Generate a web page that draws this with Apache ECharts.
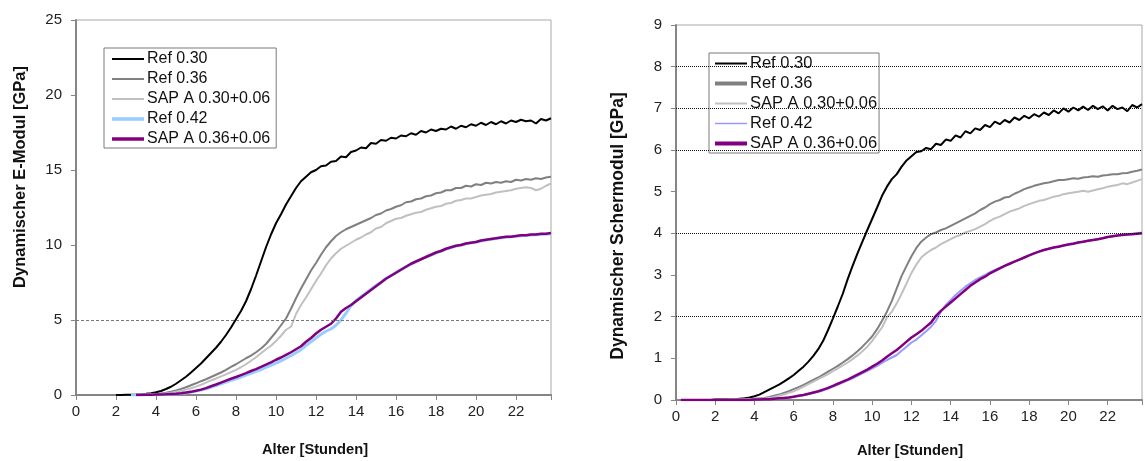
<!DOCTYPE html>
<html>
<head>
<meta charset="utf-8">
<script src="https://cdn.jsdelivr.net/npm/echarts@6/dist/echarts.min.js"></script>
<style>
  html, body { margin: 0; padding: 0; background: #fff; }
  #chart { width: 1145px; height: 461px; }
</style>
</head>
<body>
<div id="chart"></div>
<script>
// Sampling times in hours, shared by every curve
const hours = [
  0, 0.25, 0.5, 0.75, 1, 1.25, 1.5, 1.75,
  2, 2.25, 2.5, 2.75, 3, 3.25, 3.5, 3.75,
  4, 4.25, 4.5, 4.75, 5, 5.25, 5.5, 5.75,
  6, 6.25, 6.5, 6.75, 7, 7.25, 7.5, 7.75,
  8, 8.25, 8.5, 8.75, 9, 9.25, 9.5, 9.75,
  10, 10.25, 10.5, 10.75, 11, 11.25, 11.5, 11.75,
  12, 12.25, 12.5, 12.75, 13, 13.25, 13.5, 13.75,
  14, 14.25, 14.5, 14.75, 15, 15.25, 15.5, 15.75,
  16, 16.25, 16.5, 16.75, 17, 17.25, 17.5, 17.75,
  18, 18.25, 18.5, 18.75, 19, 19.25, 19.5, 19.75,
  20, 20.25, 20.5, 20.75, 21, 21.25, 21.5, 21.75,
  22, 22.25, 22.5, 22.75, 23, 23.25, 23.5, 23.75
];

const seriesNames = ['Ref 0.30', 'Ref 0.36', 'SAP A 0.30+0.06', 'Ref 0.42', 'SAP A 0.36+0.06'];

// Dynamic modulus of elasticity [GPa]
const eRef030 = [
  null, null, null, null, null, null, null, null,
  0, 0, 0.01, 0.02, 0.03, 0.05, 0.08, 0.12,
  0.18, 0.27, 0.4, 0.55, 0.75, 0.98, 1.22, 1.5,
  1.8, 2.1, 2.45, 2.8, 3.15, 3.55, 4.0, 4.5,
  5.05, 5.6, 6.25, 7.05, 7.95, 8.9, 9.85, 10.7,
  11.45, 12.05, 12.7, 13.25, 13.8, 14.25, 14.55, 14.85,
  15.0, 15.25, 15.3, 15.55, 15.6, 15.9, 15.85, 16.2,
  16.3, 16.5, 16.45, 16.8, 16.75, 17.0, 16.95, 17.15,
  17.1, 17.3, 17.25, 17.45, 17.35, 17.6, 17.5, 17.7,
  17.6, 17.75, 17.7, 17.9, 17.75, 17.95, 17.85, 18.05,
  17.95, 18.15, 18.0, 18.2, 18.05, 18.25, 18.1, 18.3,
  18.2, 18.35, 18.25, 18.3, 18.1, 18.4, 18.3, 18.45
];
const eRef036 = [
  null, null, null, null, null, null, null, null,
  null, null, null, null, 0, 0.01, 0.02, 0.03,
  0.05, 0.1, 0.15, 0.22, 0.3, 0.4, 0.52, 0.65,
  0.78, 0.92, 1.05, 1.2, 1.35, 1.5, 1.68, 1.87,
  2.05, 2.25, 2.45, 2.63, 2.85, 3.1, 3.4, 3.8,
  4.2, 4.65, 5.1, 5.75, 6.45, 7.1, 7.7, 8.3,
  8.8, 9.35, 9.85, 10.25, 10.6, 10.85, 11.05, 11.2,
  11.35, 11.5, 11.65, 11.8, 12.0, 12.1, 12.3, 12.4,
  12.55, 12.65, 12.85, 12.9, 13.05, 13.1, 13.25, 13.3,
  13.45, 13.5, 13.65, 13.65, 13.8, 13.8, 13.95, 13.9,
  14.05, 14.0, 14.15, 14.1, 14.2, 14.15, 14.25, 14.2,
  14.35, 14.3, 14.4, 14.35, 14.45, 14.4, 14.5, 14.55
];
const eSap030 = [
  null, null, null, null, null, null, null, null,
  null, null, null, null, 0, 0.01, 0.01, 0.02,
  0.04, 0.06, 0.1, 0.15, 0.21, 0.28, 0.36, 0.45,
  0.56, 0.68, 0.82, 0.97, 1.1, 1.24, 1.38, 1.52,
  1.68, 1.85, 2.05, 2.28, 2.52, 2.78, 3.05, 3.28,
  3.6, 3.95, 4.35, 4.55, 5.4, 6.0, 6.5, 7.05,
  7.6, 8.1, 8.65, 9.1, 9.45, 9.75, 9.95, 10.15,
  10.35, 10.5, 10.7, 10.85, 11.1, 11.2, 11.45, 11.6,
  11.75, 11.8, 11.95, 12.05, 12.15, 12.2, 12.35, 12.45,
  12.55, 12.6, 12.75, 12.8, 12.95, 13.0, 13.1, 13.1,
  13.2, 13.3, 13.35, 13.4, 13.5, 13.55, 13.6, 13.65,
  13.75, 13.8, 13.85, 13.8, 13.65, 13.75, 13.95, 14.1
];
const eRef042 = [
  null, null, null, null, null, null, null, null,
  null, null, null, 0, 0, 0, 0.01, 0.01,
  0.02, 0.03, 0.04, 0.06, 0.08, 0.11, 0.15, 0.2,
  0.26, 0.33, 0.42, 0.52, 0.63, 0.74, 0.86, 0.97,
  1.08, 1.2, 1.32, 1.45, 1.57, 1.7, 1.84, 1.98,
  2.13, 2.28, 2.45, 2.62, 2.82, 3.02, 3.3, 3.55,
  3.8, 4.05, 4.25, 4.4, 4.65, 5.0, 5.45, 5.95,
  6.3, 6.55, 6.8, 7.05, 7.3, 7.52, 7.78, 7.97,
  8.17, 8.37, 8.55, 8.73, 8.9, 9.05, 9.2, 9.33,
  9.48, 9.6, 9.72, 9.83, 9.93, 10.0, 10.08, 10.15,
  10.2, 10.27, 10.33, 10.38, 10.43, 10.48, 10.52, 10.55,
  10.58, 10.62, 10.63, 10.66, 10.68, 10.7, 10.72, 10.75
];
const eSap036 = [
  null, null, null, null, null, null, null, null,
  null, null, null, null, 0, 0, 0.01, 0.02,
  0.03, 0.04, 0.05, 0.07, 0.09, 0.12, 0.16, 0.21,
  0.28, 0.36, 0.46, 0.58, 0.7, 0.83, 0.96, 1.08,
  1.2, 1.33, 1.46, 1.6, 1.73, 1.87, 2.02, 2.18,
  2.35, 2.5, 2.68, 2.85, 3.05, 3.25, 3.55, 3.8,
  4.1, 4.35, 4.55, 4.75, 5.1, 5.55, 5.8, 6.0,
  6.25, 6.5, 6.75, 7.0, 7.25, 7.5, 7.75, 7.95,
  8.15, 8.35, 8.55, 8.75, 8.9, 9.05, 9.2, 9.35,
  9.5, 9.6, 9.75, 9.85, 9.95, 10.0, 10.1, 10.15,
  10.2, 10.3, 10.35, 10.4, 10.45, 10.5, 10.55, 10.55,
  10.6, 10.65, 10.65, 10.7, 10.7, 10.75, 10.75, 10.8
];

// Dynamic shear modulus [GPa]
const gRef030 = [
  null, 0, 0, 0, 0, 0, 0, 0,
  0.01, 0.01, 0.01, 0.02, 0.02, 0.03, 0.04, 0.06,
  0.09, 0.13, 0.19, 0.25, 0.31, 0.37, 0.44, 0.52,
  0.6, 0.7, 0.8, 0.92, 1.06, 1.22, 1.42, 1.68,
  1.96, 2.25, 2.55, 2.9, 3.22, 3.52, 3.8, 4.08,
  4.35, 4.62, 4.9, 5.12, 5.3, 5.42, 5.6, 5.75,
  5.85, 5.95, 5.97, 6.05, 6.02, 6.15, 6.12, 6.25,
  6.22, 6.35, 6.3, 6.45, 6.4, 6.52, 6.48, 6.6,
  6.55, 6.68, 6.62, 6.72, 6.66, 6.78, 6.72, 6.82,
  6.76, 6.86, 6.8, 6.9, 6.84, 6.95, 6.88, 7.0,
  6.92, 7.02, 6.95, 7.04, 6.96, 7.06, 6.98, 7.05,
  6.95, 7.06, 6.98, 7.02, 6.93, 7.08, 7.02, 7.1
];
const gRef036 = [
  null, 0, 0, 0, 0, 0, 0, 0,
  0, 0, 0.01, 0.01, 0.01, 0.01, 0.02, 0.02,
  0.03, 0.04, 0.05, 0.07, 0.1, 0.13, 0.17, 0.21,
  0.26, 0.31, 0.36, 0.42, 0.48, 0.54, 0.61, 0.68,
  0.75, 0.82, 0.9, 0.98, 1.07, 1.17, 1.28, 1.4,
  1.53, 1.7, 1.9, 2.12, 2.38, 2.68, 2.98, 3.22,
  3.45, 3.65, 3.8, 3.9, 3.98, 4.02, 4.08, 4.12,
  4.18, 4.24, 4.3, 4.36, 4.42, 4.48, 4.56, 4.62,
  4.7, 4.76, 4.8, 4.86, 4.88, 4.95, 5.0, 5.06,
  5.1, 5.14, 5.17, 5.2, 5.22, 5.25, 5.28, 5.28,
  5.3, 5.32, 5.31, 5.34, 5.35, 5.37, 5.36, 5.39,
  5.4, 5.42, 5.42, 5.44, 5.45, 5.48, 5.5, 5.53
];
const gSap030 = [
  null, 0, 0, 0, 0, 0, 0, 0,
  0, 0, 0, 0.01, 0.01, 0.01, 0.01, 0.02,
  0.02, 0.03, 0.03, 0.05, 0.07, 0.1, 0.13, 0.17,
  0.21, 0.26, 0.32, 0.38, 0.44, 0.5, 0.56, 0.62,
  0.69, 0.76, 0.83, 0.9, 0.98, 1.07, 1.17, 1.28,
  1.42, 1.58, 1.74, 1.98, 2.12, 2.32, 2.55, 2.8,
  3.05, 3.25, 3.42, 3.52, 3.6, 3.66, 3.74, 3.8,
  3.86, 3.92, 3.96, 4.02, 4.06, 4.1, 4.16, 4.22,
  4.3, 4.36, 4.4, 4.46, 4.52, 4.56, 4.6, 4.66,
  4.7, 4.74, 4.78, 4.8, 4.84, 4.88, 4.9, 4.94,
  4.96, 4.98, 5.0, 5.02, 5.0, 5.03, 5.06, 5.08,
  5.12, 5.14, 5.16, 5.2, 5.18, 5.22, 5.26, 5.3
];
const gRef042 = [
  null, 0, 0, 0, 0, 0, 0, 0,
  0, 0, 0, 0, 0, 0, 0, 0,
  0.01, 0.01, 0.02, 0.02, 0.03, 0.04, 0.05, 0.06,
  0.08, 0.1, 0.12, 0.14, 0.17, 0.2, 0.23, 0.27,
  0.32, 0.37, 0.42, 0.47, 0.52, 0.58, 0.64, 0.7,
  0.76, 0.82, 0.89, 0.96, 1.02, 1.08, 1.18, 1.28,
  1.38, 1.45, 1.55, 1.65, 1.76, 1.9, 2.12, 2.28,
  2.4, 2.52, 2.62, 2.72, 2.8, 2.88, 2.94, 3.0,
  3.07, 3.12, 3.17, 3.22, 3.27, 3.32, 3.37, 3.42,
  3.47, 3.52, 3.56, 3.6, 3.63, 3.66, 3.69, 3.71,
  3.74, 3.76, 3.78, 3.8, 3.82, 3.84, 3.86, 3.89,
  3.91, 3.93, 3.95, 3.97, 3.98, 3.99, 4.0, 4.02
];
const gSap036 = [
  null, 0, 0, 0, 0, 0, 0, 0,
  0, 0, 0, 0, 0, 0, 0, 0,
  0.01, 0.01, 0.02, 0.02, 0.03, 0.04, 0.05, 0.06,
  0.08, 0.1, 0.12, 0.15, 0.18, 0.21, 0.25, 0.29,
  0.34, 0.39, 0.44, 0.49, 0.55, 0.61, 0.67, 0.73,
  0.8, 0.87, 0.95, 1.04, 1.12, 1.2, 1.3, 1.4,
  1.5, 1.58, 1.66, 1.76, 1.86, 2.02, 2.14, 2.24,
  2.34, 2.44, 2.54, 2.64, 2.74, 2.82, 2.9, 2.96,
  3.04, 3.1, 3.16, 3.22, 3.27, 3.32, 3.37, 3.42,
  3.47, 3.52, 3.56, 3.6, 3.63, 3.66, 3.68, 3.71,
  3.73, 3.75, 3.78, 3.8, 3.82, 3.84, 3.86, 3.88,
  3.91, 3.93, 3.95, 3.96, 3.97, 3.98, 3.99, 4.0
];

// Reference lines drawn across each plot
const eGuideLines = [5];
const gGuideLines = [2, 4, 6, 7, 8];

const FONT = '"Liberation Sans", Arial, sans-serif';
const leftColors = ['#000000', '#808080', '#c0c0c0', '#99ccff', '#800080'];
const leftWidths = [2, 2, 2, 3, 2.5];
const rightColors = ['#000000', '#808080', '#c0c0c0', '#9999ff', '#800080'];
const rightWidths = [2, 2, 2, 2, 2.5];
const legendLeftWidths = [2, 2, 2, 3.5, 3.5];
const legendRightWidths = [2, 4, 2, 1.5, 4];

const eSets = [eRef030, eRef036, eSap030, eRef042, eSap036];
const gSets = [gRef030, gRef036, gSap030, gRef042, gSap036];

function pairs(values) {
  return hours.map((h, i) => [h, values[i]]);
}

function lineSeries(name, values, idx, color, width) {
  return {
    type: 'line', name: name,
    xAxisIndex: idx, yAxisIndex: idx,
    data: pairs(values),
    showSymbol: false, symbol: 'none',
    lineStyle: { color: color, width: width },
    itemStyle: { color: color },
    z: 3, silent: true
  };
}

function guideSeries(idx, values, style) {
  return {
    type: 'line', xAxisIndex: idx, yAxisIndex: idx, data: [],
    z: 1, silent: true,
    markLine: {
      silent: true, symbol: 'none', animation: false,
      label: { show: false },
      lineStyle: style,
      data: values.map(v => ({ yAxis: v }))
    }
  };
}

const series = [];
seriesNames.forEach((n, i) => series.push(lineSeries(n, eSets[i], 0, leftColors[i], leftWidths[i])));
seriesNames.forEach((n, i) => series.push(lineSeries(n, gSets[i], 1, rightColors[i], rightWidths[i])));
series.push(guideSeries(0, eGuideLines, { color: '#777', width: 1, type: [3, 2] }));
series.push(guideSeries(1, gGuideLines, { color: '#111', width: 1, type: [1, 1] }));

function xAxisDef(gridIndex) {
  return {
    type: 'value', gridIndex: gridIndex, min: 0, max: 23.75, interval: 2,
    axisLine: { show: true, onZero: false, lineStyle: { color: '#858585', width: 2 } },
    axisTick: { show: true, length: 5, lineStyle: { color: '#858585', width: 1 } },
    axisLabel: {
      color: '#222', fontSize: 15, fontFamily: FONT, margin: 9,
      formatter: v => (v % 2 === 0 ? String(v) : '')
    },
    splitLine: { show: false }
  };
}

function yAxisDef(gridIndex, max, interval) {
  return {
    type: 'value', gridIndex: gridIndex, min: 0, max: max, interval: interval,
    axisLine: { show: true, lineStyle: { color: '#858585', width: 2 } },
    axisTick: { show: true, length: 5, lineStyle: { color: '#858585', width: 1 } },
    axisLabel: { color: '#222', fontSize: 15, fontFamily: FONT, margin: 14 },
    splitLine: { show: false }
  };
}

// Legend swatches are plain horizontal bars of the given thickness
function barIcon(thickness) {
  return 'path://M0,0H32V' + thickness + 'H0Z';
}

function legendDef(left, top, colors, widths, fontSize, padding, gap) {
  return {
    left: left, top: top, orient: 'vertical',
    itemWidth: 32, itemHeight: 14, itemGap: gap,
    symbolKeepAspect: true,
    padding: padding,
    borderColor: '#7a7a7a', borderWidth: 1, backgroundColor: '#fff',
    textStyle: { color: '#111', fontSize: fontSize, fontFamily: FONT, lineHeight: 16, padding: [0, 0, 0, -2] },
    selectedMode: false,
    data: seriesNames.map((n, i) => ({
      name: n,
      icon: barIcon(widths[i]),
      itemStyle: { color: colors[i], borderWidth: 0 }
    }))
  };
}

const chart = echarts.init(document.getElementById('chart'), null, { renderer: 'canvas' });
chart.setOption({
  animation: false,
  backgroundColor: '#fff',
  grid: [
    { left: 76, top: 20, width: 475, height: 375, show: true, borderColor: '#a8a8a8', borderWidth: 1, containLabel: false },
    { left: 676, top: 25, width: 475, height: 375, show: true, borderColor: '#a8a8a8', borderWidth: 1, containLabel: false }
  ],
  xAxis: [xAxisDef(0), xAxisDef(1)],
  yAxis: [yAxisDef(0, 25, 5), yAxisDef(1, 9, 1)],
  legend: [
    legendDef(104, 48, leftColors, legendLeftWidths, 16, [3, 6, 1, 8], 4),
    legendDef(709, 53, rightColors, legendRightWidths, 16.5, [2, 2, 1, 6], 3)
  ],
  graphic: [
    { type: 'text', x: 20, y: 177, rotation: Math.PI / 2,
      style: { text: 'Dynamischer E-Modul [GPa]', font: 'bold 16.5px ' + FONT, fill: '#111', align: 'center', verticalAlign: 'middle' } },
    { type: 'text', x: 618, y: 226, rotation: Math.PI / 2,
      style: { text: 'Dynamischer Schermodul [GPa]', font: 'bold 17.5px ' + FONT, fill: '#111', align: 'center', verticalAlign: 'middle' } },
    { type: 'text', x: 315, y: 450,
      style: { text: 'Alter [Stunden]', font: 'bold 14.7px ' + FONT, fill: '#111', align: 'center', verticalAlign: 'middle' } },
    { type: 'text', x: 910, y: 451,
      style: { text: 'Alter [Stunden]', font: 'bold 14.7px ' + FONT, fill: '#111', align: 'center', verticalAlign: 'middle' } }
  ],
  series: series
});
</script>
</body>
</html>
